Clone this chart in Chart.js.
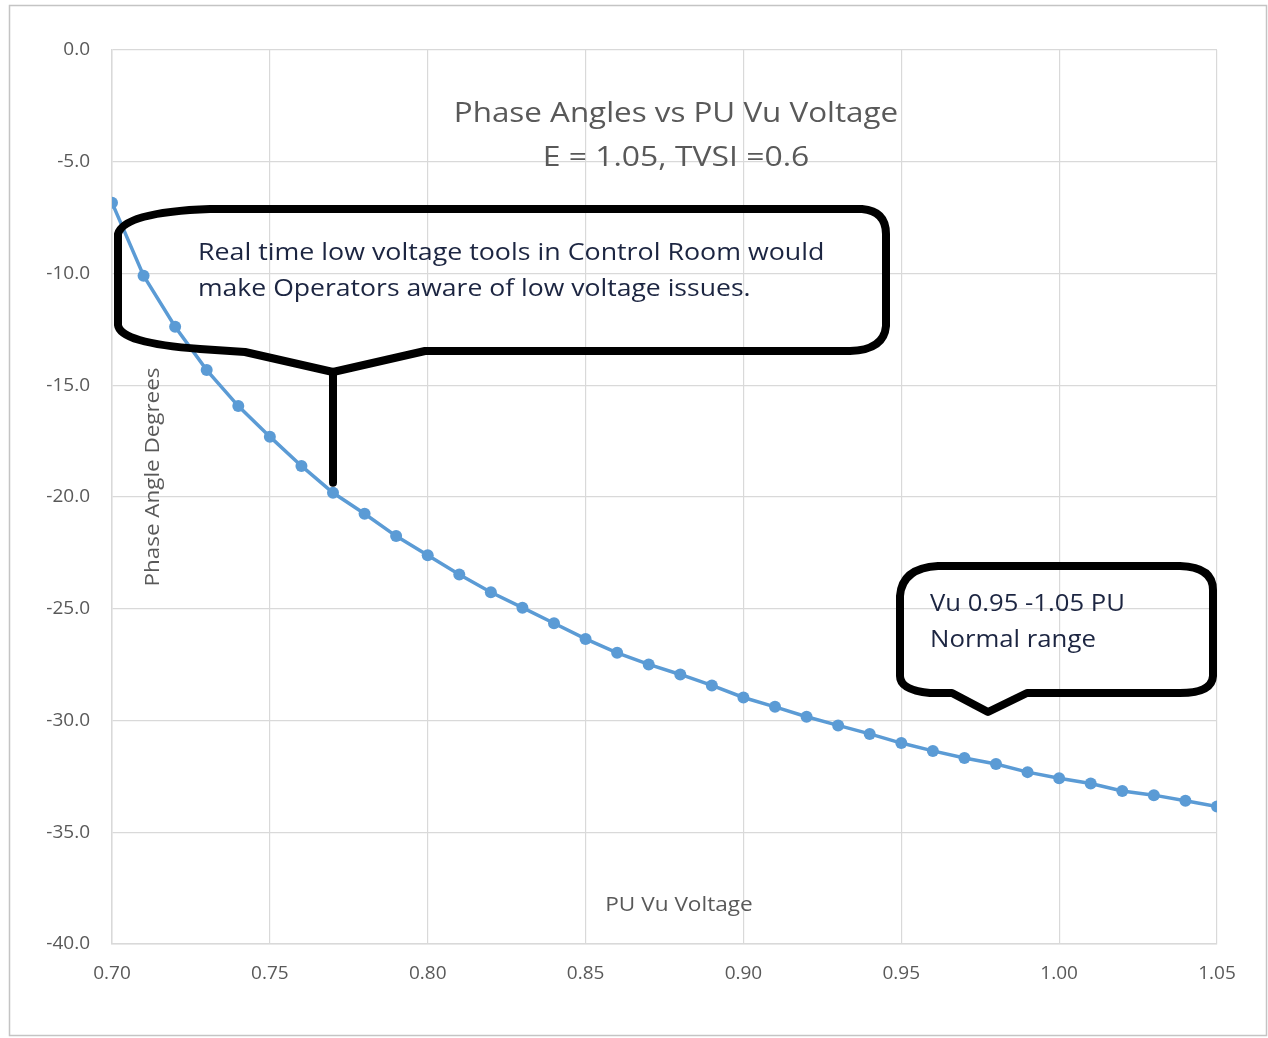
<!DOCTYPE html>
<html>
<head>
<meta charset="utf-8">
<script src="https://cdn.jsdelivr.net/npm/chart.js@4/dist/chart.umd.min.js"></script>
<style>
  html, body { margin: 0; padding: 0; background: #ffffff; }
  #wrap { width: 1268px; height: 1038px; position: relative; }
  canvas { display: block; }
</style>
</head>
<body>
<div id="wrap"><canvas id="chart" width="1268" height="1038"></canvas></div>
<script>
// Receiving-end voltage (per unit) and the resulting phase angle (degrees)
const voltagePU = [
  0.70, 0.71, 0.72, 0.73, 0.74, 0.75, 0.76, 0.77, 0.78, 0.79,
  0.80, 0.81, 0.82, 0.83, 0.84, 0.85, 0.86, 0.87, 0.88, 0.89,
  0.90, 0.91, 0.92, 0.93, 0.94, 0.95, 0.96, 0.97, 0.98, 0.99,
  1.00, 1.01, 1.02, 1.03, 1.04, 1.05
];
const phaseAngleDeg = [
  -6.83, -10.10, -12.38, -14.32, -15.93, -17.30, -18.61, -19.81, -20.75, -21.75,
  -22.61, -23.47, -24.26, -24.95, -25.65, -26.35, -26.97, -27.49, -27.94, -28.43,
  -28.97, -29.39, -29.83, -30.22, -30.60, -31.01, -31.36, -31.68, -31.95, -32.31,
  -32.58, -32.82, -33.15, -33.34, -33.59, -33.85
];

// Axis tick positions
const xTickValues = [0.70, 0.75, 0.80, 0.85, 0.90, 0.95, 1.00, 1.05];
const yTickValues = [0, -5, -10, -15, -20, -25, -30, -35, -40];

// Texts
const titleLines = ['Phase Angles vs PU Vu Voltage', 'E = 1.05, TVSI =0.6'];
const xAxisTitle = 'PU Vu Voltage';
const yAxisTitle = 'Phase Angle Degrees';
const lowVoltageNote = [
  'Real time low voltage tools in Control Room would',
  'make Operators aware of low voltage issues.'
];
const normalRangeNote = ['Vu 0.95 -1.05 PU', 'Normal range'];

const FONT = '"Open Sans", "Liberation Sans", sans-serif';
const GREY_TEXT = '#595959';
const NOTE_TEXT = '#1c2541';

const points = voltagePU.map((v, i) => ({ x: v, y: phaseAngleDeg[i] }));

// Text drawn slightly widened, like the Calibri-style lettering of the sheet
function wideText(ctx, text, x, y, sx, align) {
  ctx.save();
  ctx.translate(x, y);
  ctx.scale(sx, 1);
  ctx.textAlign = align;
  ctx.fillText(text, 0, 0);
  ctx.restore();
}

// Frame, in-plot titles and the two hand-drawn speech bubbles
const overlay = {
  id: 'overlay',
  beforeDraw(chart) {
    const ctx = chart.ctx;
    ctx.save();
    ctx.fillStyle = '#ffffff';
    ctx.fillRect(0, 0, chart.width, chart.height);
    ctx.strokeStyle = '#c4c4c4';
    ctx.lineWidth = 1.5;
    ctx.strokeRect(9.5, 5.5, 1257, 1030);
    ctx.restore();
  },
  beforeDatasetsDraw(chart) {
    const ctx = chart.ctx;
    ctx.save();
    ctx.fillStyle = GREY_TEXT;
    ctx.textBaseline = 'alphabetic';
    ctx.font = '28px ' + FONT;
    wideText(ctx, titleLines[0], 676, 122, 1.12, 'center');
    wideText(ctx, titleLines[1], 676, 166, 1.14, 'center');
    ctx.font = '20px ' + FONT;
    wideText(ctx, xAxisTitle, 679, 911, 1.13, 'center');
    ctx.translate(159, 477);
    ctx.rotate(-Math.PI / 2);
    wideText(ctx, yAxisTitle, 0, 0, 1.12, 'center');
    ctx.restore();
  },
  afterDatasetsDraw(chart) {
    const ctx = chart.ctx;
    const xs = chart.scales.x, ys = chart.scales.y;
    ctx.save();
    ctx.strokeStyle = '#000000';
    ctx.lineWidth = 8;
    ctx.lineJoin = 'round';
    ctx.lineCap = 'round';

    // Bubble about low-voltage tools, its stem points at the 0.77 PU reading
    const stemX = xs.getPixelForValue(0.77);
    const stemEnd = ys.getPixelForValue(phaseAngleDeg[voltagePU.indexOf(0.77)]) - 10;
    ctx.beginPath();
    ctx.moveTo(210, 209);
    ctx.lineTo(862, 209);
    ctx.quadraticCurveTo(886, 211, 886, 234);
    ctx.lineTo(886, 326);
    ctx.quadraticCurveTo(884, 350, 850, 351);
    ctx.lineTo(425, 351);
    ctx.lineTo(stemX, 372);
    ctx.lineTo(245, 352);
    ctx.lineTo(200, 349);
    ctx.quadraticCurveTo(120, 343, 118, 325);
    ctx.lineTo(118, 234);
    ctx.quadraticCurveTo(124, 212, 210, 209);
    ctx.closePath();
    ctx.stroke();
    ctx.beginPath();
    ctx.moveTo(stemX, 372);
    ctx.lineTo(stemX, stemEnd);
    ctx.stroke();

    // Bubble about the normal voltage range
    ctx.beginPath();
    ctx.moveTo(938, 566);
    ctx.lineTo(1180, 566);
    ctx.quadraticCurveTo(1213, 567, 1213, 590);
    ctx.lineTo(1213, 676);
    ctx.quadraticCurveTo(1212, 693, 1180, 693);
    ctx.lineTo(1027, 693);
    ctx.lineTo(988, 712);
    ctx.lineTo(952, 693);
    ctx.lineTo(930, 693);
    ctx.quadraticCurveTo(900, 690, 900, 676);
    ctx.lineTo(900, 596);
    ctx.quadraticCurveTo(902, 568, 938, 566);
    ctx.closePath();
    ctx.stroke();

    ctx.fillStyle = NOTE_TEXT;
    ctx.textBaseline = 'alphabetic';
    ctx.font = '23px ' + FONT;
    wideText(ctx, lowVoltageNote[0], 198, 260, 1.165, 'left');
    wideText(ctx, lowVoltageNote[1], 198, 296, 1.155, 'left');
    wideText(ctx, normalRangeNote[0], 930, 611, 1.115, 'left');
    wideText(ctx, normalRangeNote[1], 930, 647, 1.12, 'left');
    ctx.restore();
  }
};

new Chart(document.getElementById('chart'), {
  type: 'line',
  data: {
    datasets: [{
      label: 'Phase angle',
      data: points,
      borderColor: '#5b9bd5',
      backgroundColor: '#5b9bd5',
      borderWidth: 3.5,
      pointRadius: 6,
      pointBackgroundColor: '#5b9bd5',
      pointBorderWidth: 0,
      tension: 0,
      fill: false
    }]
  },
  options: {
    responsive: false,
    animation: false,
    devicePixelRatio: 1,
    layout: { padding: { top: 50, right: 51, left: 0, bottom: 0 } },
    plugins: {
      legend: { display: false },
      title: { display: false },
      tooltip: { enabled: false }
    },
    scales: {
      x: {
        type: 'linear',
        min: 0.70,
        max: 1.05,
        afterBuildTicks(s) { s.ticks = xTickValues.map(v => ({ value: v })); },
        afterFit(s) { s.height = 94; },
        grid: { color: '#d9d9d9', lineWidth: 1.2, drawTicks: false },
        border: { color: '#d9d9d9', width: 1.5 },
        ticks: {
          color: GREY_TEXT,
          font: { family: FONT, size: 19 },
          padding: 18,
          maxRotation: 0,
          autoSkip: false,
          callback: v => Number(v).toFixed(2)
        }
      },
      y: {
        min: -40,
        max: 0,
        afterBuildTicks(s) { s.ticks = yTickValues.map(v => ({ value: v })); },
        afterFit(s) { s.width = 112; },
        grid: { color: '#d9d9d9', lineWidth: 1.2, drawTicks: false },
        border: { color: '#d9d9d9', width: 1.5 },
        ticks: {
          color: GREY_TEXT,
          font: { family: FONT, size: 19 },
          padding: 22,
          autoSkip: false,
          callback: v => Number(v).toFixed(1)
        }
      }
    }
  },
  plugins: [overlay]
});
</script>
</body>
</html>
